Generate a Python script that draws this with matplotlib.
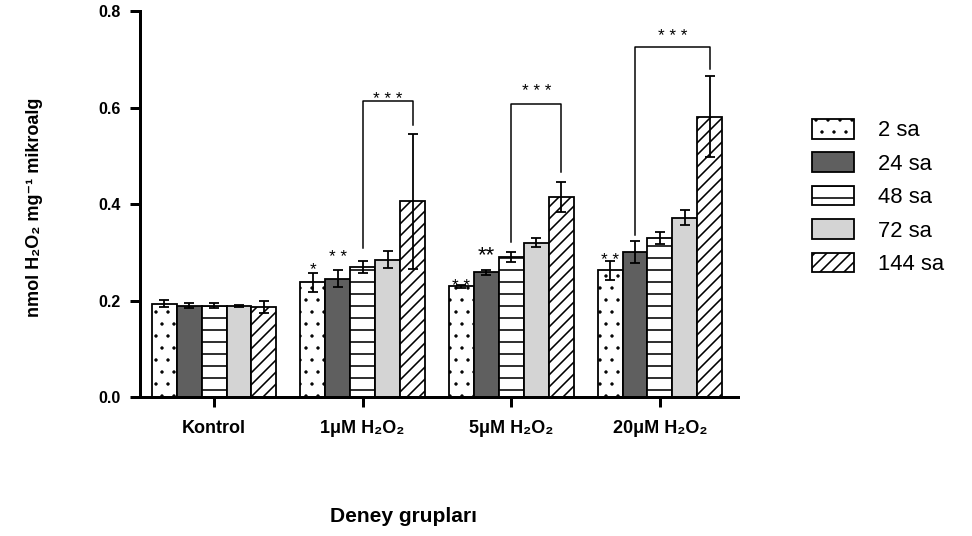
### grouped bar chart - H2O2 content of microalgae per exposure time

import numpy as np
import matplotlib
matplotlib.use('Agg')
import matplotlib.pyplot as plt

### font settings
plt.rcParams['font.family'] = ['Liberation Sans', 'DejaVu Sans']
plt.rcParams['hatch.linewidth'] = 1.6

### data
groups = ['Kontrol', '1μM H₂O₂', '5μM H₂O₂', '20μM H₂O₂']
series = ['2 sa', '24 sa', '48 sa', '72 sa', '144 sa']

sa2 = [0.194, 0.238, 0.230, 0.263]
sa24 = [0.190, 0.246, 0.259, 0.301]
sa48 = [0.190, 0.270, 0.290, 0.330]
sa72 = [0.190, 0.285, 0.320, 0.372]
sa144 = [0.187, 0.406, 0.415, 0.581]

err2 = [0.008, 0.020, 0.003, 0.020]
err24 = [0.005, 0.018, 0.005, 0.023]
err48 = [0.005, 0.012, 0.010, 0.013]
err72 = [0.002, 0.017, 0.009, 0.015]
err144 = [0.013, 0.140, 0.031, 0.084]

### significance brackets (group, from series, to series)
bracket_group = [1, 2, 3]
bracket_from = [2, 2, 1]
bracket_to = [4, 4, 4]
bracket_top = [0.613, 0.608, 0.726]
bracket_left_bottom = [0.309, 0.322, 0.337]
bracket_right_bottom = [0.563, 0.466, 0.680]
bracket_text_y = [0.626, 0.644, 0.756]

### stars above single bars
star_group = [1, 1, 2, 2, 3]
star_series = [0, 1, 0, 1, 0]
star_text = ['*', '* *', '* *', '**', '* *']
star_y = [0.275, 0.299, 0.240, 0.306, 0.293]

means = [sa2, sa24, sa48, sa72, sa144]
errs = [err2, err24, err48, err72, err144]

### styles
colors = ['white', '#5f5f5f', 'white', '#d4d4d4', 'white']
hatches = ['.', None, '-', None, '//']
hatch_lw = [0.9, 1.6, 1.6, 1.6, 1.6]
bar_w = 0.168

fig = plt.figure(figsize=(972 / 72, 536 / 72), dpi=72)
ax = fig.add_axes([140 / 972, 1 - 397.3 / 536, 598 / 972, 386.3 / 536])

x = np.arange(len(groups))

def bar_pos(g, s):
    return x[g] + (s - 2) * bar_w

for s in range(len(series)):
    xs = x + (s - 2) * bar_w
    bars = ax.bar(xs, means[s], bar_w, color=colors[s], edgecolor='black',
                  linewidth=1.8, hatch=hatches[s], label=series[s], zorder=2)
    ### thinner dots for the dotted pattern (only if supported)
    for b in bars:
        if hasattr(b, 'set_hatch_linewidth'):
            b.set_hatch_linewidth(hatch_lw[s])
    ax.errorbar(xs, means[s], yerr=errs[s], fmt='none', ecolor='black',
                elinewidth=1.8, capsize=5, capthick=1.8, zorder=3)

### brackets
for i in range(len(bracket_group)):
    x0 = bar_pos(bracket_group[i], bracket_from[i])
    x1 = bar_pos(bracket_group[i], bracket_to[i])
    ax.plot([x0, x0, x1, x1],
            [bracket_left_bottom[i], bracket_top[i], bracket_top[i], bracket_right_bottom[i]],
            color='black', lw=1.5, zorder=3)
    ax.text((x0 + x1) / 2, bracket_text_y[i] - 0.019, '* * *', ha='center',
            va='baseline', fontsize=17)

for i in range(len(star_group)):
    xs = bar_pos(star_group[i], star_series[i])
    big = star_text[i] == '**'
    ax.text(xs, star_y[i] - (0.024 if big else 0.019), star_text[i], ha='center',
            va='baseline', fontsize=22 if big else 17)

### axes
ax.set_ylim(0, 0.8)
ax.set_xlim(-0.498, 3.525)
ax.set_yticks([0.0, 0.2, 0.4, 0.6, 0.8])
ax.set_yticklabels(['0.0', '0.2', '0.4', '0.6', '0.8'], fontsize=16, fontweight='bold')
ax.set_xticks(x)
ax.set_xticklabels(groups, fontsize=18, fontweight='bold')
ax.spines['top'].set_visible(False)
ax.spines['right'].set_visible(False)
for sp in ['left', 'bottom']:
    ax.spines[sp].set_linewidth(3)
ax.tick_params(axis='both', direction='out', length=10, width=3)
ax.tick_params(axis='y', pad=9)
ax.tick_params(axis='x', pad=13)

fig.text(35 / 972, 1 - 207 / 536, 'nmol H₂O₂ mg⁻¹ mikroalg', rotation=90,
         ha='center', va='center', fontsize=18, fontweight='bold')
fig.text(403 / 972, 1 - 516 / 536, 'Deney grupları', ha='center', va='center',
         fontsize=21, fontweight='bold')

### legend
leg = ax.legend(loc='upper left', bbox_to_anchor=(812 / 972, 1 - 119 / 536),
                bbox_transform=fig.transFigure, frameon=False, fontsize=22,
                handlelength=1.9, handleheight=1.0, labelspacing=0.5,
                handletextpad=1.1, borderpad=0, borderaxespad=0)
for h, lw in zip(leg.get_patches(), hatch_lw):
    if hasattr(h, 'set_hatch_linewidth'):
        h.set_hatch_linewidth(lw)

fig.savefig('out.png', dpi=72)
